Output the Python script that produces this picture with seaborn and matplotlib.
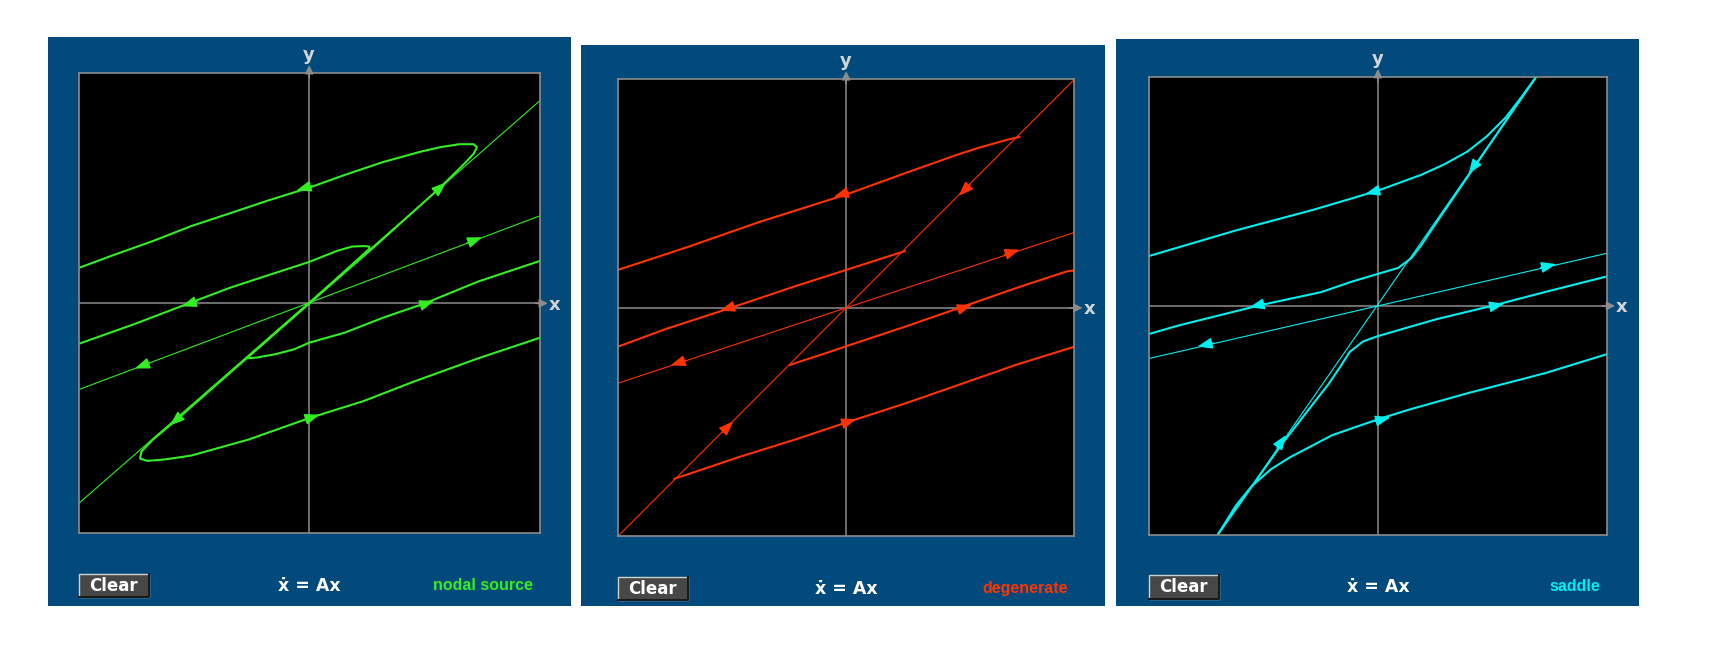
import matplotlib
matplotlib.use("Agg")
import matplotlib.pyplot as plt
import numpy as np
import seaborn as sns
from matplotlib.patches import Rectangle

W, H = 1725, 669
BLUE = "#014a7b"
GREY = "#8c8c8c"

# ---- nodal source (green) ----
node_line_x = [[-10, 10], [-10, 10]]
node_line_y = [[-8.7, 8.8], [-3.75, 3.8]]
node_curve_x = [
    [0, 2.69, 5.68, 6.76, 7.14, 7.28, 7.14, 6.51, 5.68, 4.85, 3.19, 1.53, 0, -1.79, -3.46, -5.12, -6.78, -8.44, -10],
    [0, 2.61, 2.61, 2.36, 1.86, 1.2, 0, -1.79, -3.46, -5.28, -7.61, -10],
    [0, -2.62, -2.71, -2.29, -1.46, -0.63, 0, 1.53, 3.19, 5.02, 7.34, 10],
    [0, -5.78, -6.78, -7.28, -7.34, -7.03, -6.28, -5.12, -2.62, 0, 2.36, 4.52, 7.34, 10],
]
node_curve_y = [
    [0, 2.34, 5.03, 6.10, 6.51, 6.79, 6.92, 6.92, 6.79, 6.60, 6.14, 5.58, 5.03, 4.47, 3.91, 3.36, 2.71, 2.12, 1.54],
    [0, 2.37, 2.47, 2.49, 2.47, 2.28, 1.80, 1.22, 0.67, -0.02, -0.91, -1.76],
    [0, -2.30, -2.39, -2.36, -2.21, -1.99, -1.71, -1.28, -0.63, 0, 0.95, 1.84],
    [0, -5.08, -5.92, -6.44, -6.75, -6.85, -6.79, -6.62, -5.92, -4.99, -4.25, -3.41, -2.39, -1.50],
]
node_arrow_x = [5.68, -5.78, -0.22, -5.2, 7.18, -7.24, 5.1, 0.12]
node_arrow_y = [5.03, -5.08, 5.01, -0.02, 2.75, -2.71, 0.0, -4.95]
node_arrow_dx = [1, -1, -1, -1, 1, -1, 1, 1]
node_arrow_dy = [0.875, -0.875, -0.3, -0.33, 0.38, -0.38, 0.33, 0.32]

# ---- degenerate (red) ----
deg_line_x = [[-10, 10], [-10, 10]]
deg_line_y = [[-10, 10], [-3.3, 3.3]]
deg_curve_x = [
    [7.59, 7.11, 5.82, 4.86, 2.60, 0, -3.83, -7.04, -10],
    [2.57, 1.96, 1.0, 0, -2.22, -5.11, -7.85, -10],
    [-2.46, -1.9, -0.93, 0, 2.6, 5.02, 7.43, 9.68, 10],
    [-7.52, -6.56, -4.63, -2.22, 0, 2.6, 5.02, 7.43, 10],
]
deg_curve_y = [
    [7.48, 7.37, 7.01, 6.70, 5.90, 4.96, 3.75, 2.63, 1.66],
    [2.48, 2.29, 1.98, 1.66, 0.95, -0.02, -0.91, -1.70],
    [-2.5, -2.31, -2.0, -1.68, -0.82, 0.02, 0.86, 1.6, 1.64],
    [-7.48, -7.16, -6.51, -5.76, -5.02, -4.18, -3.34, -2.5, -1.70],
]
deg_arrow_x = [5.18, -5.19, -0.21, -5.19, 5.18, 0.11, 7.27, -7.36]
deg_arrow_y = [5.15, -5.21, 4.96, -0.02, 0.02, -4.98, 2.44, -2.41]
deg_arrow_dx = [-1, 1, -1, -1, 1, 1, 1, -1]
deg_arrow_dy = [-1, 1, -0.3, -0.3, 0.33, 0.33, 0.33, -0.33]

# ---- saddle (cyan) ----
sad_line_x = [[-10, 10], [-6.99, 6.90]]
sad_line_y = [[-2.3, 2.3], [-10, 10]]
sad_curve_x = [
    [6.90, 6.26, 5.59, 4.75, 3.91, 2.9, 1.89, 0, -1.31, -2.83, -6.2, -10],
    [6.90, 4.16, 2.39, 1.89, 1.46, 0.88, 0, -1.14, -2.49, -5.19, -8.72, -10],
    [-6.99, -4.21, -2.15, -1.65, -1.23, -0.64, 0, 2.56, 5.05, 7.27, 10],
    [-6.99, -6.2, -5.52, -4.68, -3.84, -1.99, 0, 1.38, 3.91, 7.27, 10],
]
sad_curve_y = [
    [10, 9.12, 8.25, 7.41, 6.75, 6.19, 5.73, 5.04, 4.65, 4.20, 3.30, 2.18],
    [10, 6.0, 3.40, 2.65, 2.09, 1.66, 1.40, 1.06, 0.6, 0.02, -0.86, -1.23],
    [-10, -6.06, -3.41, -2.67, -2.01, -1.55, -1.32, -0.58, 0.02, 0.6, 1.29],
    [-10, -8.73, -7.89, -7.15, -6.62, -5.65, -4.96, -4.53, -3.82, -2.95, -2.11],
]
sad_arrow_x = [4.16, -4.21, 7.44, -7.54, -0.22, -5.27, 5.17, 0.2]
sad_arrow_y = [6.06, -5.93, 1.75, -1.70, 4.98, 0.02, 0.02, -4.96]
sad_arrow_dx = [-1, 1, 1, -1, -1, -1, 1, 1]
sad_arrow_dy = [-1.44, 1.44, 0.23, -0.23, -0.27, -0.23, 0.22, 0.25]


def fig_rect(x0, y0, x1, y1):
    return [x0 / W, 1 - y1 / H, (x1 - x0) / W, (y1 - y0) / H]


def draw_panel(fig, blue_box, plot_box, color, label,
               line_x, line_y, curve_x, curve_y, arr_x, arr_y, arr_dx, arr_dy):
    # blue frame
    b = fig_rect(*blue_box)
    fig.add_artist(Rectangle(b[:2], b[2], b[3], transform=fig.transFigure,
                             facecolor=BLUE, edgecolor="none", zorder=0))

    ax = fig.add_axes(fig_rect(*plot_box))
    ax.set_facecolor("black")
    ax.set_xlim(-10, 10)
    ax.set_ylim(-10, 10)
    ax.set_xticks([])
    ax.set_yticks([])
    for s in ax.spines.values():
        s.set_color(GREY)
        s.set_linewidth(1.2)
    ax.axhline(0, color=GREY, lw=1.1, zorder=1)
    ax.axvline(0, color=GREY, lw=1.1, zorder=1)

    # axis arrows sticking out of the box
    head = "-|>,head_length=0.5,head_width=0.25"
    ax.annotate("", xy=(1.018, 0.5), xytext=(0.99, 0.5), xycoords="axes fraction",
                arrowprops=dict(arrowstyle=head, color=GREY, lw=1.1, shrinkA=0, shrinkB=0,
                                mutation_scale=10), annotation_clip=False)
    ax.annotate("", xy=(0.5, 1.018), xytext=(0.5, 0.99), xycoords="axes fraction",
                arrowprops=dict(arrowstyle=head, color=GREY, lw=1.1, shrinkA=0, shrinkB=0,
                                mutation_scale=10), annotation_clip=False)
    ax.text(1.033, 0.497, "x", transform=ax.transAxes, ha="center", va="center",
            color="#d5d5d5", fontsize=13, fontweight="bold")
    ax.text(0.5, 1.04, "y", transform=ax.transAxes, ha="center", va="center",
            color="#d5d5d5", fontsize=13, fontweight="bold")

    # trajectories
    for lx, ly in zip(line_x, line_y):
        sns.lineplot(x=lx, y=ly, sort=False, estimator=None, color=color, lw=0.8, ax=ax)
    for cx, cy in zip(curve_x, curve_y):
        sns.lineplot(x=cx, y=cy, sort=False, estimator=None, color=color, lw=1.5, ax=ax)
    for x, y, dx, dy in zip(arr_x, arr_y, arr_dx, arr_dy):
        n = np.hypot(dx, dy)
        ux, uy = dx / n * 0.35, dy / n * 0.35
        ax.annotate("", xy=(x + ux, y + uy), xytext=(x - ux, y - uy),
                    arrowprops=dict(arrowstyle="-|>,head_length=0.75,head_width=0.28",
                                    color=color, lw=1, shrinkA=0, shrinkB=0,
                                    mutation_scale=12))
    ax.set(xlabel="", ylabel="")

    # bottom controls
    px0, py0, px1, py1 = plot_box
    by0 = py1 + 40.5
    by1 = by0 + 23.5
    bx0, bx1 = px0, px0 + 70
    r = fig_rect(bx0, by0, bx1, by1)
    fig.add_artist(Rectangle(r[:2], r[2], r[3], transform=fig.transFigure,
                             facecolor="#474747", edgecolor="#d0d0d0", lw=1, zorder=2))
    fig.add_artist(plt.Line2D([bx0 / W, bx1 / W, bx1 / W], [1 - by1 / H, 1 - by1 / H, 1 - by0 / H],
                              transform=fig.transFigure, color="#1a1a1a", lw=1.5, zorder=3))
    cy = 1 - (by0 + by1) / 2 / H
    fig.text((bx0 + bx1) / 2 / W, cy, "Clear", ha="center", va="center",
             color="white", fontsize=12, fontweight="bold", family="DejaVu Sans")
    fig.text((px0 + px1) / 2 / W, cy, "\u1e8b = Ax", ha="center", va="center",
             color="white", fontsize=12.5, fontweight="bold", family="DejaVu Sans")
    fig.text((px1 - 7) / W, cy, label, ha="right", va="center",
             color=color, fontsize=11.5, fontweight="bold", family="Liberation Sans")
    return ax


fig = plt.figure(figsize=(W / 100, H / 100), dpi=100)
fig.patch.set_facecolor("white")

draw_panel(fig, (48, 37, 571, 606), (78.8, 73.4, 539.6, 533.3), "#33ee22", "nodal source",
           node_line_x, node_line_y, node_curve_x, node_curve_y,
           node_arrow_x, node_arrow_y, node_arrow_dx, node_arrow_dy)
draw_panel(fig, (581, 45, 1105, 606), (617.9, 79.4, 1074.4, 536.3), "#ff3300", "degenerate",
           deg_line_x, deg_line_y, deg_curve_x, deg_curve_y,
           deg_arrow_x, deg_arrow_y, deg_arrow_dx, deg_arrow_dy)
draw_panel(fig, (1116, 39, 1639, 606), (1148.9, 77.2, 1606.9, 534.6), "#00f0f0", "saddle",
           sad_line_x, sad_line_y, sad_curve_x, sad_curve_y,
           sad_arrow_x, sad_arrow_y, sad_arrow_dx, sad_arrow_dy)

fig.savefig("out.png", dpi=100, facecolor="white")
